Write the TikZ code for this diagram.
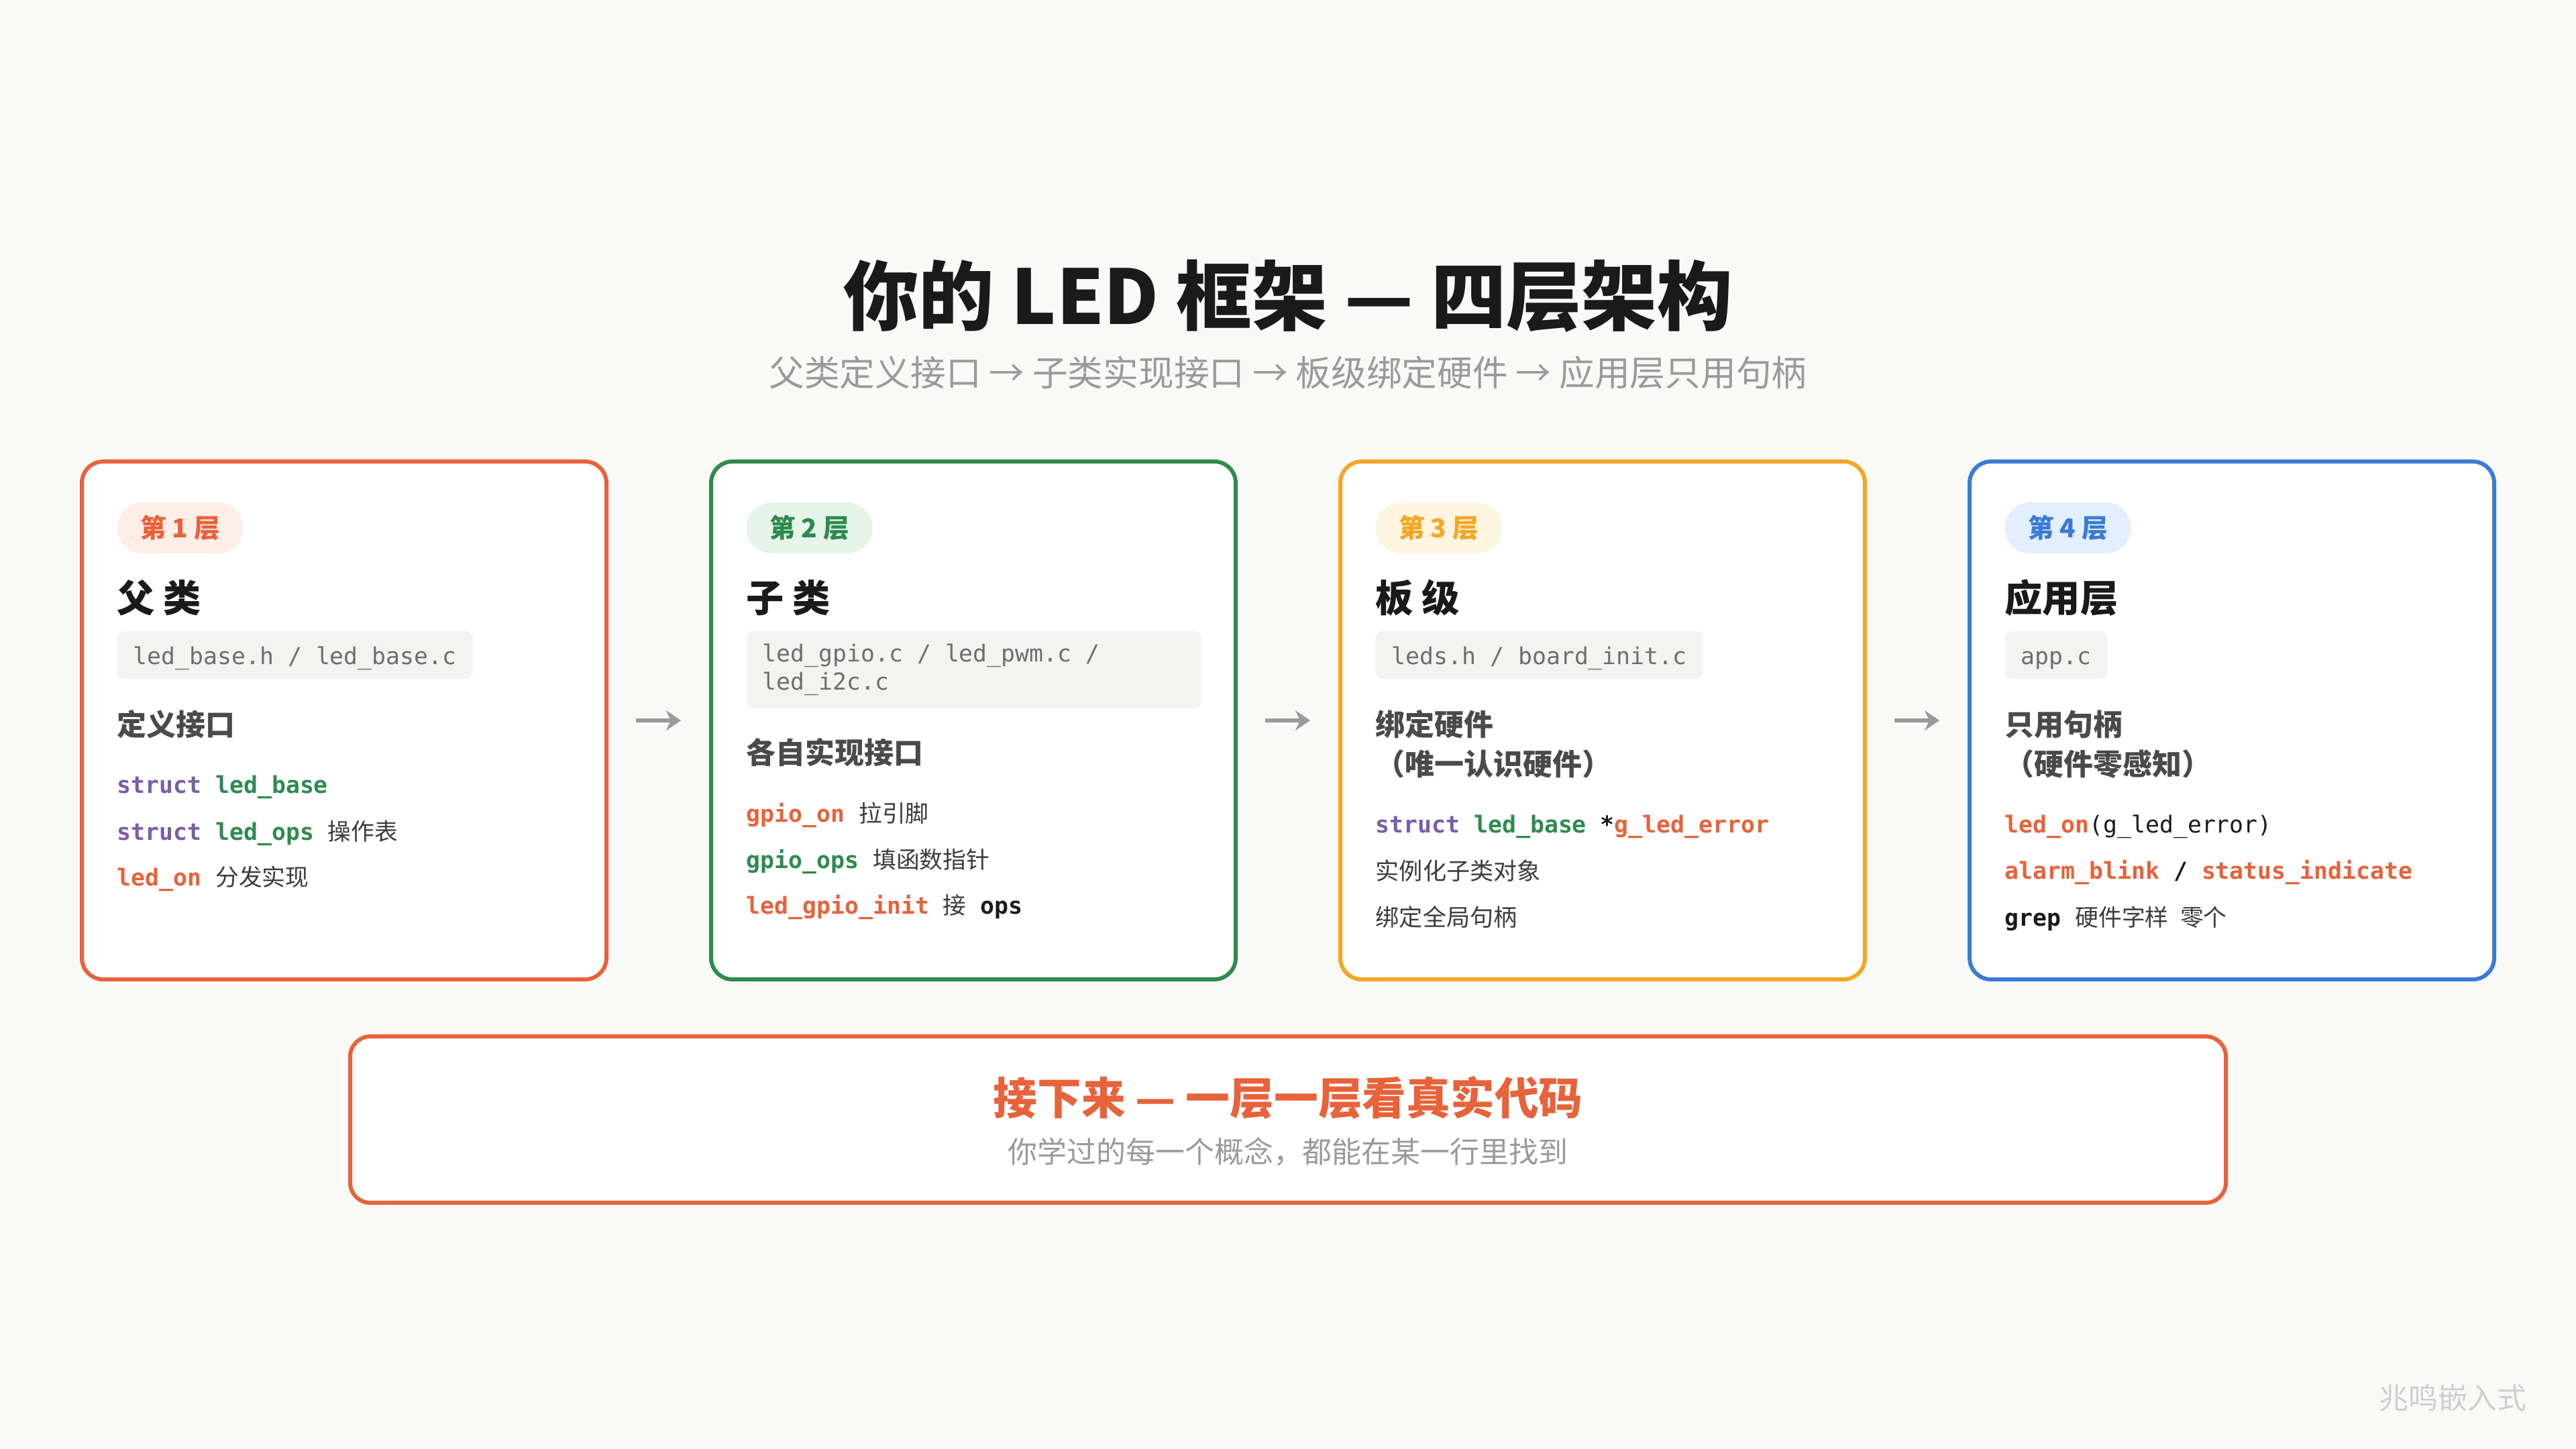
\documentclass[tikz,border=0pt]{standalone}
\usepackage{fontspec}
\setmainfont{Noto Sans CJK SC}
\setmonofont{DejaVu Sans Mono}
\usepackage{xcolor}
\usepackage{tikz}
\usetikzlibrary{arrows.meta}
\definecolor{Paper}{HTML}{F9F9F7}
\definecolor{Ink}{HTML}{1A1A1A}
\definecolor{Slate}{HTML}{4A4A4A}
\definecolor{Note}{HTML}{3C3C3C}
\definecolor{Mute}{HTML}{6E6E6E}
\definecolor{Ash}{HTML}{9A9A9A}
\definecolor{Faint}{HTML}{CFCFCF}
\definecolor{Chip}{HTML}{F3F3F1}
\definecolor{Coral}{HTML}{E8623A}
\definecolor{CoralPale}{HTML}{FDEEE8}
\definecolor{Leaf}{HTML}{2E8B4E}
\definecolor{LeafPale}{HTML}{E6F4EA}
\definecolor{Amber}{HTML}{F5A623}
\definecolor{AmberPale}{HTML}{FEF5E0}
\definecolor{Sky}{HTML}{3A7BD5}
\definecolor{SkyPale}{HTML}{E3EFFC}
\definecolor{Plum}{HTML}{7B5EA7}
\newcommand\zh[1]{{\rmfamily\mdseries\color{Note}#1}}

\begin{document}
\begin{tikzpicture}[x=1cm, y=1cm, >=Stealth]
\tikzset{card/.style={fill=white, line width=.06cm, rounded corners=.32cm, minimum width=7.82cm, minimum height=7.72cm}, badge/.style={anchor=west, rounded corners=.38cm, minimum width=1.88cm, minimum height=.76cm, font=\fontsize{11}{13}\selectfont\bfseries}, head/.style={anchor=west, inner sep=0pt, text=Ink, font=\fontsize{16}{19}\selectfont\bfseries}, subhead/.style={anchor=west, inner sep=0pt, align=left, text=Slate, font=\fontsize{12.5}{16.8}\selectfont\bfseries}, filebox/.style={anchor=north west, fill=Chip, rounded corners=.1cm, inner xsep=.24cm, minimum height=.71cm, text=Mute, font=\fontsize{9.9}{11.8}\selectfont\ttfamily}, oneline/.style={filebox, text height=.9em, text depth=.1em}, code/.style={anchor=west, inner sep=0pt, text=Ink, font=\fontsize{9.9}{12}\selectfont\ttfamily\bfseries}, desc/.style={anchor=west, inner sep=0pt, text=Note, font=\fontsize{10}{12}\selectfont}, flow/.style={draw=Ash, line width=.065cm, -{Stealth[length=.22cm,width=.3cm,inset=.07cm]}, shorten <=.41cm, shorten >=.42cm}, banner/.style={draw=Coral, line width=.06cm, fill=white, rounded corners=.3cm, minimum width=27.96cm, minimum height=2.48cm}}
\path[fill=Paper, use as bounding box] (0,0) rectangle (38.4,21.6);
\node[text=Ink, font=\fontsize{32}{38}\selectfont\bfseries] (title) at (19.2,17.19) {你的 LED 框架 — 四层架构};
\node[text=Ash, font=\fontsize{15}{18}\selectfont] (lead) at (19.2,16.04) {父类定义接口 → 子类实现接口 → 板级绑定硬件 → 应用层只用句柄};
\foreach \name/\x/\col/\pale/\lvl/\ttl in {base/1.22/Coral/CoralPale/1/{父 类},sub/10.60/Leaf/LeafPale/2/{子 类},board/19.98/Amber/AmberPale/3/{板 级},app/29.36/Sky/SkyPale/4/{应用层}} {
  \node[card, draw=\col] (\name) at (\x+3.91,10.86) {};
  \node[badge, fill=\pale, text=\col] (\name tag) at (\x+.52,13.73) {第 \lvl{} 层};
  \node[head] (\name head) at (\x+.52,12.69) {\ttl};
}
\foreach \a/\b in {base/sub,sub/board,board/app} \draw[flow] (\a) -- (\b);
% layer 1
\node[oneline] (basefile) at (1.74,12.20) {led\_base.h / led\_base.c};
\node[subhead] (basesub) at (1.74,10.80) {定义接口};
\node[code] (base1) at (1.74,9.87) {\textcolor{Plum}{struct} \textcolor{Leaf}{led\_base}};
\node[code] (base2) at (1.74,9.18) {\textcolor{Plum}{struct} \textcolor{Leaf}{led\_ops} \zh{操作表}};
\node[code] (base3) at (1.74,8.50) {\textcolor{Coral}{led\_on} \zh{分发实现}};
% layer 2
\node[filebox, text width=6.30cm, align=left, minimum height=1.15cm] (subfile) at (11.12,12.20) {\spaceskip=0pt\xspaceskip=0pt\relax led\_gpio.c / led\_pwm.c /\\led\_i2c.c};
\node[subhead] (subsub) at (11.12,10.38) {各自实现接口};
\node[code] (sub1) at (11.12,9.45) {\textcolor{Coral}{gpio\_on} \zh{拉引脚}};
\node[code] (sub2) at (11.12,8.765) {\textcolor{Leaf}{gpio\_ops} \zh{填函数指针}};
\node[code] (sub3) at (11.12,8.08) {\textcolor{Coral}{led\_gpio\_init} \zh{接} ops};
% layer 3
\node[oneline] (boardfile) at (20.50,12.20) {leds.h / board\_init.c};
\node[subhead] (boardsub) at (20.50,10.505) {绑定硬件\\（唯一认识硬件）};
\node[code] (board1) at (20.50,9.28) {\textcolor{Plum}{struct} \textcolor{Leaf}{led\_base} *\textcolor{Coral}{g\_led\_error}};
\node[desc] (board2) at (20.50,8.615) {实例化子类对象};
\node[desc] (board3) at (20.50,7.93) {绑定全局句柄};
% layer 4
\node[oneline] (appfile) at (29.88,12.20) {app.c};
\node[subhead] (appsub) at (29.88,10.505) {只用句柄\\（硬件零感知）};
\node[code] (app1) at (29.88,9.28) {\textcolor{Coral}{led\_on}{\mdseries(g\_led\_error)}};
\node[code] (app2) at (29.88,8.595) {\textcolor{Coral}{alarm\_blink} / \textcolor{Coral}{status\_indicate}};
\node[code] (app3) at (29.88,7.91) {grep \zh{硬件字样\enspace 零个}};
% next step
\node[banner] (next) at (19.2,4.91) {};
\node[text=Coral, font=\fontsize{18.7}{22}\selectfont\bfseries] (nexttitle) at (19.2,5.24) {接下来 — 一层一层看真实代码};
\node[text=Ash, font=\fontsize{12.5}{15}\selectfont] (nextnote) at (19.2,4.43) {你学过的每一个概念，都能在某一行里找到};
\node[anchor=east, inner sep=0pt, text=Faint, font=\fontsize{12.5}{15}\selectfont] (mark) at (37.67,.76) {兆鸣嵌入式};
\end{tikzpicture}
\end{document}
